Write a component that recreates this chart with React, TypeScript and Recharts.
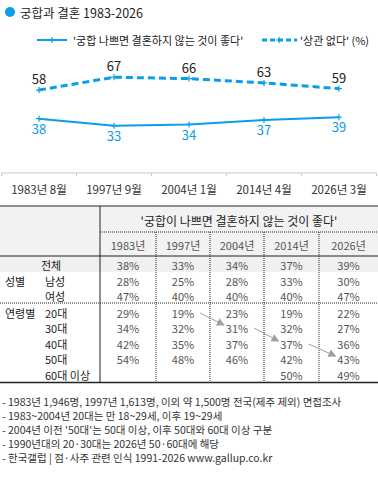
import { Line, LineChart, XAxis, YAxis } from "recharts";

const years = ["1983년 8월", "1997년 9월", "2004년 1월", "2014년 4월", "2026년 3월"];
const avoidIfBad = [38, 33, 34, 37, 39];
const noMatter = [58, 67, 66, 63, 59];

const tableYears = ["1983년", "1997년", "2004년", "2014년", "2026년"];
const totalRow = [38, 33, 34, 37, 39];
const maleRow = [28, 25, 28, 33, 30];
const femaleRow = [47, 40, 40, 40, 47];
const age20 = [29, 19, 23, 19, 22];
const age30 = [34, 32, 31, 32, 27];
const age40 = [42, 35, 37, 37, 36];
const age50 = [54, 48, 46, 42, 43];
const age60 = [null, null, null, 50, 49];

const notes = [
  "- 1983년 1,946명, 1997년 1,613명, 이외 약 1,500명 전국(제주 제외) 면접조사",
  "- 1983~2004년 20대는 만 18~29세, 이후 19~29세",
  "- 2004년 이전 '50대'는 50대 이상, 이후 50대와 60대 이상 구분",
  "- 1990년대의 20·30대는 2026년 50·60대에 해당",
  "- 한국갤럽 | 점·사주 관련 인식 1991-2026 www.gallup.co.kr",
];

const BLUE = "#0b9de8";
const FONT = '"Noto Sans CJK KR", "Noto Sans", sans-serif';

const chartData = years.map((label, i) => ({ label, bad: avoidIfBad[i], none: noMatter[i] }));

function PlusDot(props: any) {
  const { cx, cy } = props;
  if (cx == null || cy == null) return null;
  return <path d={`M${cx - 3},${cy}H${cx + 3}M${cx},${cy - 3}V${cy + 3}`} stroke={BLUE} strokeWidth={1.2} />;
}

function YearTick(props: any) {
  const { x, y, payload, index, width } = props;
  const band = (width || 375) / years.length;
  return (
    <g>
      <line x1={x - band / 2} x2={x - band / 2} y1={y} y2={y + 3} stroke="#c8c8c8" />
      {index === years.length - 1 && <line x1={x + band / 2} x2={x + band / 2} y1={y} y2={y + 3} stroke="#c8c8c8" />}
      <text x={x} y={y + 16} textAnchor="middle" dominantBaseline="central" fontSize={11.5} fill="#333" fontFamily={FONT}>
        {payload.value}
      </text>
    </g>
  );
}

const colX = [100, 156, 210, 264, 319, 378];
const colC = colX.slice(0, 5).map((x, i) => (x + colX[i + 1]) / 2);

const rows: { label: string; group?: string; values: (number | null)[]; y: number; labelX: number }[] = [
  { label: "전체", values: totalRow, y: 265, labelX: 41 },
  { label: "남성", group: "성별", values: maleRow, y: 281, labelX: 45 },
  { label: "여성", values: femaleRow, y: 296, labelX: 45 },
  { label: "20대", group: "연령별", values: age20, y: 313, labelX: 45 },
  { label: "30대", values: age30, y: 328, labelX: 45 },
  { label: "40대", values: age40, y: 344, labelX: 45 },
  { label: "50대", values: age50, y: 359, labelX: 45 },
  { label: "60대 이상", values: age60, y: 375, labelX: 45 },
];

// cohort arrows: (col, row) -> (col+1, row+1)
const arrows = [
  [1, 3],
  [2, 4],
  [3, 5],
];

function Table() {
  return (
    <svg width={378} height={483} style={{ position: "absolute", left: 0, top: 0 }} fontFamily={FONT}>
      <defs>
        <marker id="ah" markerWidth="8" markerHeight="8" refX="7" refY="4" orient="auto" markerUnits="userSpaceOnUse">
          <path d="M0,0 L8,4 L0,8 z" fill="#a0a0a0" />
        </marker>
      </defs>
      <rect x={0} y={206} width={378} height={50} fill="#f2f2f2" />
      <rect x={0} y={256} width={378} height={16} fill="#f0f0f0" />
      <line x1={0} x2={378} y1={206} y2={206} stroke="#222" />
      <line x1={100} x2={378} y1={232} y2={232} stroke="#222" strokeDasharray="1 1" />
      <line x1={0} x2={378} y1={256} y2={256} stroke="#222" />
      <line x1={0} x2={378} y1={303} y2={303} stroke="#222" strokeDasharray="1 1" />
      <line x1={0} x2={378} y1={382.5} y2={382.5} stroke="#222" strokeWidth={1.5} />
      <line x1={100} x2={100} y1={206} y2={382} stroke="#222" />
      {colX.slice(1, 5).map((x) => (
        <line key={x} x1={x} x2={x} y1={232} y2={382} stroke="#222" strokeDasharray="1 1" />
      ))}
      <text x={239} y={220} textAnchor="middle" dominantBaseline="central" fontSize={12} fill="#222">
        '궁합이 나쁘면 결혼하지 않는 것이 좋다'
      </text>
      {tableYears.map((t, i) => (
        <text key={t} x={colC[i]} y={245} textAnchor="middle" dominantBaseline="central" fontSize={11} fill="#555">
          {t}
        </text>
      ))}
      {rows.map((r) => (
        <g key={r.label}>
          {r.group && (
            <text x={5} y={r.y} dominantBaseline="central" fontSize={11} fill="#222">
              {r.group}
            </text>
          )}
          <text x={r.labelX} y={r.y} dominantBaseline="central" fontSize={11} fill="#222">
            {r.label}
          </text>
          {r.values.map((v, i) =>
            v == null ? null : (
              <text key={i} x={colC[i]} y={r.y} textAnchor="middle" dominantBaseline="central" fontSize={11} fill="#555">
                {v}%
              </text>
            )
          )}
        </g>
      ))}
      {arrows.map(([c, r]) => (
        <line
          key={c}
          x1={colC[c] + 17}
          y1={rows[r].y}
          x2={colC[c + 1] - 13}
          y2={rows[r + 1].y - 3}
          stroke="#a0a0a0"
          strokeWidth={1}
          markerEnd="url(#ah)"
        />
      ))}
      {notes.map((n, i) => (
        <text key={i} x={2} y={401 + i * 14} dominantBaseline="central" fontSize={10.5} fill="#333">
          {n}
        </text>
      ))}
    </svg>
  );
}

export default function App() {
  return (
    <div style={{ position: "absolute", left: 0, top: 0, width: 378, height: 483, background: "#fff", fontFamily: FONT }}>
      <svg width={378} height={55} style={{ position: "absolute", left: 0, top: 0 }} fontFamily={FONT}>
        <circle cx={10} cy={12} r={5} fill={BLUE} />
        <text x={20} y={12} dominantBaseline="central" fontSize={12.5} fill="#222">
          궁합과 결혼 1983-2026
        </text>
        <line x1={37} x2={67} y1={40} y2={40} stroke={BLUE} strokeWidth={2} />
        <PlusDot cx={52} cy={40} />
        <text x={73} y={40} dominantBaseline="central" fontSize={11} fill="#222">
          '궁합 나쁘면 결혼하지 않는 것이 좋다'
        </text>
        <line x1={262} x2={297} y1={40} y2={40} stroke={BLUE} strokeWidth={3} strokeDasharray="5 3" />
        <PlusDot cx={279} cy={40} />
        <text x={300} y={40} dominantBaseline="central" fontSize={11} fill="#222">
          '상관 없다' (%)
        </text>
      </svg>
      <div style={{ position: "absolute", left: 0, top: 0 }}>
        <LineChart width={378} height={201} data={chartData} margin={{ top: 30, right: 1.5, left: 1.5, bottom: 0 }}>
          <XAxis
            dataKey="label"
            height={28}
            stroke="#c8c8c8"
            tickLine={false}
            tickSize={0}
            tickMargin={0}
            interval={0}
            padding={{ left: 37.5, right: 37.5 }}
            tick={<YearTick />}
          />
          <YAxis hide domain={[0, 100]} />
          <Line
            dataKey="none"
            stroke={BLUE}
            strokeWidth={3}
            strokeDasharray="7 4"
            dot={<PlusDot />}
            activeDot={false}
            isAnimationActive={false}
            label={{ position: "top", offset: 6, fill: "#222", fontSize: 13, fontFamily: FONT }}
          />
          <Line
            dataKey="bad"
            stroke={BLUE}
            strokeWidth={2}
            dot={<PlusDot />}
            activeDot={false}
            isAnimationActive={false}
            label={{ position: "bottom", offset: 6, fill: BLUE, fontSize: 13, fontFamily: FONT }}
          />
        </LineChart>
      </div>
      <Table />
    </div>
  );
}
